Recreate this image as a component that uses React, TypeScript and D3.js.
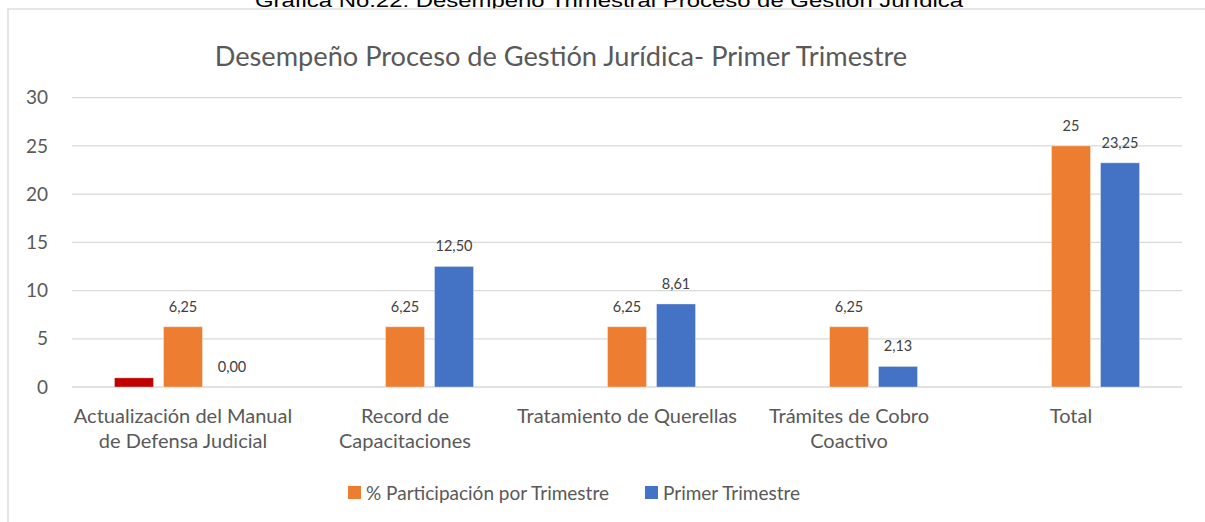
import React from 'react';
import * as d3 from 'd3';

const W = 1205, H = 522;

// data
const categories = [
    'Actualización del Manual de Defensa Judicial',
    'Record de Capacitaciones',
    'Tratamiento de Querellas',
    'Trámites de Cobro Coactivo',
    'Total',
];
const categoryLines = [
    ['Actualización del Manual', 'de Defensa Judicial'],
    ['Record de', 'Capacitaciones'],
    ['Tratamiento de Querellas'],
    ['Trámites de Cobro', 'Coactivo'],
    ['Total'],
];
const seriesNames = ['Serie 3', '% Participación por Trimestre', 'Primer Trimestre'];
const seriesColors = ['#C00000', '#ED7D31', '#4472C4'];
const extraValues = [0.95, 0, 0, 0, 0];
const participacion = [6.25, 6.25, 6.25, 6.25, 25];
const primerTrimestre = [0, 12.5, 8.61, 2.13, 23.25];
const participacionLabels = ['6,25', '6,25', '6,25', '6,25', '25'];
const primerLabels = ['0,00', '12,50', '8,61', '2,13', '23,25'];
const yTicks = [0, 5, 10, 15, 20, 25, 30];
const legendSeries = [1, 2];

const FONT = 'Lato, "Open Sans", sans-serif';
const GREY = '#595959';

const App = () => {
    const plotLeft = 72, plotRight = 1182;

    const y = d3.scaleLinear().domain([0, 30]).range([387, 97.7]);
    const x0 = d3.scaleBand().domain(categories).range([plotLeft, plotRight]).padding(0);
    const x1 = d3.scaleBand().domain(seriesNames).range([0, x0.bandwidth()])
        .paddingInner(0.204).paddingOuter(0.867);

    const values = [extraValues, participacion, primerTrimestre];
    const labels = [null, participacionLabels, primerLabels];

    return (
        <svg width={W} height={H} style={{position: 'absolute', left: 0, top: 0}}>
            <rect width={W} height={H} fill="#fff"/>
            {/* caption above, cut off by the page top as in the source */}
            <text x={609} y={7} textAnchor="middle" fontFamily='"Liberation Sans", Arial, sans-serif'
                  fontSize={19} textLength={708} lengthAdjust="spacingAndGlyphs" fill="#000">
                Grafica No.22: Desempeño Trimestral Proceso de Gestión Jurídica
            </text>
            {/* chart box */}
            <rect x={8} y={9} width={W + 10} height={H + 10} fill="#fff" stroke="#d9d9d9" strokeWidth={1.3}/>

            <text x={561} y={66} textAnchor="middle" fontFamily={FONT} fontSize={27.2} fill={GREY}>
                Desempeño Proceso de Gestión Jurídica- Primer Trimestre
            </text>

            {/* gridlines and y labels */}
            {yTicks.map(t => (
                <g key={t}>
                    <line x1={plotLeft} x2={plotRight} y1={y(t)} y2={y(t)} stroke="#d9d9d9" strokeWidth={1.3}/>
                    <text x={48} y={y(t)} dy="0.35em" textAnchor="end" fontFamily={FONT} fontSize={19} fill={GREY}>
                        {t}
                    </text>
                </g>
            ))}

            {/* bars */}
            {categories.map((c, i) => (
                <g key={c} transform={`translate(${x0(c)},0)`}>
                    {seriesNames.map((s, k) => {
                        const v = values[k][i];
                        const bx = x1(s)!;
                        const lab = labels[k];
                        return (
                            <g key={s}>
                                {v > 0 && (
                                    <rect x={bx} width={x1.bandwidth()} y={y(v)} height={y(0) - y(v)}
                                          fill={seriesColors[k]} stroke="#fff" strokeOpacity={0.35} strokeWidth={1}/>
                                )}
                                {lab && (
                                    <text x={bx + x1.bandwidth() / 2} y={y(v) - 15} textAnchor="middle"
                                          fontFamily={FONT} fontSize={14.5} fill="#404040">
                                        {lab[i]}
                                    </text>
                                )}
                            </g>
                        );
                    })}
                </g>
            ))}

            {/* category labels */}
            {categories.map((c, i) => (
                <text key={c} x={x0(c)! + x0.bandwidth() / 2} y={423} textAnchor="middle"
                      fontFamily={FONT} fontSize={20} fill={GREY}>
                    {categoryLines[i].map((l, j) => (
                        <tspan key={j} x={x0(c)! + x0.bandwidth() / 2} dy={j === 0 ? 0 : 25}>{l}</tspan>
                    ))}
                </text>
            ))}

            {/* legend */}
            {legendSeries.map((k, j) => {
                const lx = j === 0 ? 348 : 645;
                return (
                    <g key={k}>
                        <rect x={lx} y={486} width={13} height={13} fill={seriesColors[k]}/>
                        <text x={lx + 18} y={500} fontFamily={FONT} fontSize={19} fill={GREY}>
                            {seriesNames[k]}
                        </text>
                    </g>
                );
            })}
        </svg>
    );
};

export default App;
